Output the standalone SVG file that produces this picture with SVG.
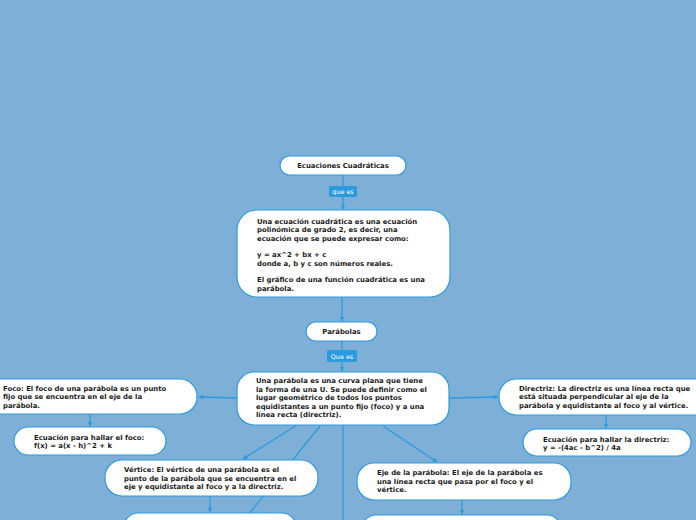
<svg xmlns="http://www.w3.org/2000/svg" width="696" height="520" viewBox="0 0 696 520">
<defs>
<marker id="ah" viewBox="0 0 10 10" refX="9" refY="5" markerWidth="5" markerHeight="5" markerUnits="userSpaceOnUse" orient="auto">
<path d="M0,0 L10,5 L0,10 z" fill="#2b9be0"/>
</marker>
<style>
.bg{fill:#7eafd6}
.n{fill:#ffffff;stroke:#2b9be0;stroke-width:1.2}
.t{font-family:"DejaVu Sans",Verdana,sans-serif;font-weight:bold;font-size:6.9px;fill:#1a1a1a}
.c{fill:none;stroke:#2b9be0;stroke-width:1.3}
.ca{fill:none;stroke:#2b9be0;stroke-width:1.3;marker-end:url(#ah)}
.lb{fill:#2b9be0}
.lt{font-family:"DejaVu Sans",Verdana,sans-serif;font-size:6.4px;fill:#ffffff}
</style>
</defs>
<rect class="bg" x="0" y="0" width="696" height="520"/>
<g id="connectors">
<line class="ca" x1="343" y1="175" x2="343" y2="209"/>
<line class="ca" x1="342" y1="297" x2="342" y2="321"/>
<line class="ca" x1="342" y1="341" x2="342" y2="371"/>
<line class="ca" x1="237" y1="398" x2="199" y2="397"/>
<line class="ca" x1="449" y1="398" x2="498" y2="397"/>
<line class="ca" x1="90" y1="414" x2="90" y2="426"/>
<line class="ca" x1="606" y1="415" x2="606" y2="428"/>
<line class="ca" x1="297" y1="425" x2="243" y2="459"/>
<line class="c" x1="320" y1="426" x2="249" y2="514"/>
<line class="c" x1="343" y1="425" x2="343" y2="520"/>
<line class="ca" x1="383" y1="426" x2="437" y2="462"/>
<line class="ca" x1="210" y1="496" x2="210" y2="512"/>
<line class="ca" x1="462" y1="500" x2="462" y2="514"/>
</g>
<g id="label-que-es">
<rect class="lb" x="329" y="186" width="28" height="11" rx="1.5"/>
<text class="lt" x="343" y="194" text-anchor="middle">que es</text>
</g>
<g id="label-que-es-2">
<rect class="lb" x="327" y="350" width="30" height="12" rx="1.5"/>
<text class="lt" x="342" y="358.5" text-anchor="middle">Que es</text>
</g>
<g id="n-ecuaciones">
<rect class="n" x="280" y="156" width="126" height="19" rx="9.5"/>
<text class="t" x="343" y="168" text-anchor="middle">Ecuaciones Cuadráticas</text>
</g>
<g id="n-definicion">
<rect class="n" x="237" y="210" width="213" height="87" rx="20"/>
<text class="t">
<tspan x="257" y="223.5">Una ecuación cuadrática es una ecuación</tspan>
<tspan x="257" y="232">polinómica de grado 2, es decir, una</tspan>
<tspan x="257" y="240.5">ecuación que se puede expresar como:</tspan>
<tspan x="257" y="257">y = ax^2 + bx + c</tspan>
<tspan x="257" y="265.5">donde a, b y c son números reales.</tspan>
<tspan x="257" y="282">El gráfico de una función cuadrática es una</tspan>
<tspan x="257" y="290.5">parábola.</tspan>
</text>
</g>
<g id="n-parabolas">
<rect class="n" x="306" y="322" width="71" height="19" rx="9.5"/>
<text class="t" x="341.5" y="334" text-anchor="middle">Parábolas</text>
</g>
<g id="n-parabola-def">
<rect class="n" x="237" y="372" width="212" height="53" rx="17"/>
<text class="t">
<tspan x="256" y="383">Una parábola es una curva plana que tiene</tspan>
<tspan x="256" y="391.5">la forma de una U. Se puede definir como el</tspan>
<tspan x="256" y="400">lugar geométrico de todos los puntos</tspan>
<tspan x="256" y="408.5">equidistantes a un punto fijo (foco) y a una</tspan>
<tspan x="256" y="417">línea recta (directriz).</tspan>
</text>
</g>
<g id="n-foco">
<rect class="n" x="-20" y="379" width="217" height="35" rx="17"/>
<text class="t">
<tspan x="3" y="390.5">Foco: El foco de una parábola es un punto</tspan>
<tspan x="3" y="399">fijo que se encuentra en el eje de la</tspan>
<tspan x="3" y="407.5">parábola.</tspan>
</text>
</g>
<g id="n-foco-ec">
<rect class="n" x="14" y="427" width="152" height="28" rx="14"/>
<text class="t">
<tspan x="34" y="439.5">Ecuación para hallar el foco:</tspan>
<tspan x="34" y="448">f(x) = a(x - h)^2 + k</tspan>
</text>
</g>
<g id="n-directriz">
<rect class="n" x="499" y="379" width="217" height="36" rx="17"/>
<text class="t">
<tspan x="519" y="390.5">Directriz: La directriz es una línea recta que</tspan>
<tspan x="519" y="399">está situada perpendicular al eje de la</tspan>
<tspan x="519" y="407.5">parábola y equidistante al foco y al vértice.</tspan>
</text>
</g>
<g id="n-directriz-ec">
<rect class="n" x="523" y="429" width="168" height="27" rx="13.5"/>
<text class="t">
<tspan x="543" y="441.5">Ecuación para hallar la directriz:</tspan>
<tspan x="543" y="450">y = -(4ac - b^2) / 4a</tspan>
</text>
</g>
<g id="n-vertice">
<rect class="n" x="105" y="460" width="213" height="36" rx="17"/>
<text class="t">
<tspan x="124" y="472">Vértice: El vértice de una parábola es el</tspan>
<tspan x="124" y="480.5">punto de la parábola que se encuentra en el</tspan>
<tspan x="124" y="489">eje y equidistante al foco y a la directriz.</tspan>
</text>
</g>
<g id="n-vertice-ec">
<rect class="n" x="124" y="513" width="172" height="30" rx="14"/>
</g>
<g id="n-eje">
<rect class="n" x="357" y="463" width="214" height="37" rx="17"/>
<text class="t">
<tspan x="377" y="475">Eje de la parábola: El eje de la parábola es</tspan>
<tspan x="377" y="483.5">una línea recta que pasa por el foco y el</tspan>
<tspan x="377" y="492">vértice.</tspan>
</text>
</g>
<g id="n-eje-ec">
<rect class="n" x="362" y="515" width="199" height="30" rx="14"/>
</g>
</svg>
